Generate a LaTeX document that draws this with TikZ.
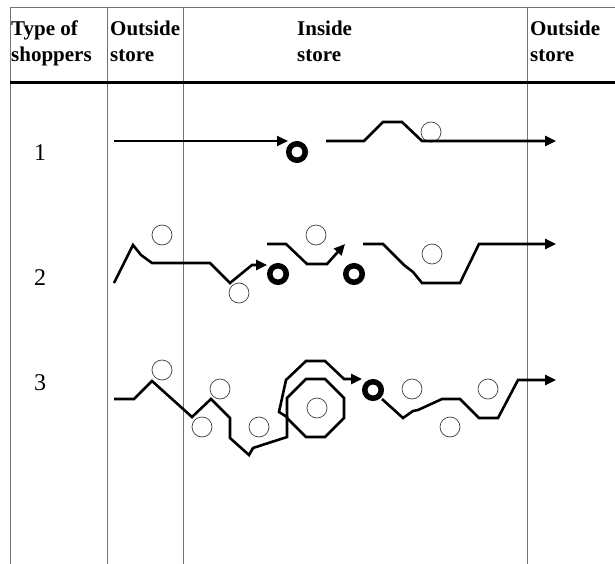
\documentclass[tikz,border=0pt]{standalone}
\usepackage{fontspec}
\setmainfont{Liberation Serif}
\usetikzlibrary{arrows.meta}

\begin{document}
\begin{tikzpicture}[
  x=1pt,y=-1pt,
  rejilla/.style={draw=black!55,line width=0.9pt},
  cabecera/.style={font=\fontsize{21}{26}\selectfont\bfseries,align=left,anchor=base west,inner sep=0pt},
  fila/.style={font=\fontsize{24}{26}\selectfont,inner sep=0pt},
  ruta/.style={line width=2.6pt,line join=miter},
  flecha/.style={ruta,-{Triangle[length=11pt,width=10pt]}},
  caja/.style={circle,draw=black,line width=5.5pt,minimum size=16.5pt,inner sep=0pt},
  estante/.style={circle,draw=black!75,line width=0.7pt,minimum size=20pt,inner sep=0pt}
]
  \useasboundingbox (0,0) rectangle (615,564);

  % Tabla: bordes y columnas
  \draw[rejilla] (10,7) -- (615,7);
  \foreach \x in {10,107,183,527}
    {\draw[rejilla] (\x,7) -- (\x,564);}
  \draw[line width=3pt] (10,83) -- (615,83);

  \node[cabecera] (tipo)   at (11,62)  {Type of\\shoppers};
  \node[cabecera] (fuera1) at (110,62) {Outside\\store};
  \node[cabecera] (dentro) at (297,62) {Inside\\store};
  \node[cabecera] (fuera2) at (530,62) {Outside\\store};

  \node[fila] (f1) at (40,153) {1};
  \node[fila] (f2) at (40,278) {2};
  \node[fila] (f3) at (40,383) {3};

  % Estantes (circulos pequenos)
  \foreach \x/\y [count=\i] in {431/132,162/235,239/293,316/235,432/254,
      162/370,220/389,202/427,259/427,317/408,412/389,488/389,450/427}
    {\node[estante] (e\i) at (\x,\y) {};}

  % Cajas (circulos gruesos)
  \node[caja] (c1) at (297,152) {};
  \node[caja] (c2) at (278,274) {};
  \node[caja] (c3) at (354,274) {};
  \node[caja] (c4) at (373,390) {};

  % Comprador tipo 1
  \draw[flecha,line width=1.8pt] (114,141) -- (288,141);
  \draw[flecha] (326,141) -- (364,141) -- (383,122) -- (402,122) -- (422,141) -- (556,141);

  % Comprador tipo 2
  \draw[flecha] (114,283) -- (133,245) -- (141,255) -- (152,263) -- (210,263)
    -- (230,283) -- (252,265) -- (267,265);
  \draw[flecha] (267,244) -- (286,244) -- (307,264) -- (327,264) -- (345,244);
  \draw[flecha] (363,244) -- (383,244) -- (404,265) -- (413,272) -- (422,283)
    -- (460,283) -- (479,244) -- (556,244);

  % Comprador tipo 3
  \draw[ruta] (306,379) -- (325,379) -- (344,398) -- (344,418) -- (325,437)
    -- (306,437) -- (287,418) -- (287,398) -- cycle;
  \draw[flecha] (114,399) -- (134,399) -- (152,381) -- (192,417) -- (211,399)
    -- (230,418) -- (230,438) -- (249,455) -- (253,448) -- (287,437) -- (287,417)
    -- (279,412) -- (286,380) -- (306,361) -- (325,361) -- (344,379) -- (362,379);
  \draw[flecha] (382,399) -- (403,418) -- (413,411) -- (418,410) -- (442,399)
    -- (460,399) -- (479,418) -- (498,418) -- (518,380) -- (556,380);
\end{tikzpicture}
\end{document}
